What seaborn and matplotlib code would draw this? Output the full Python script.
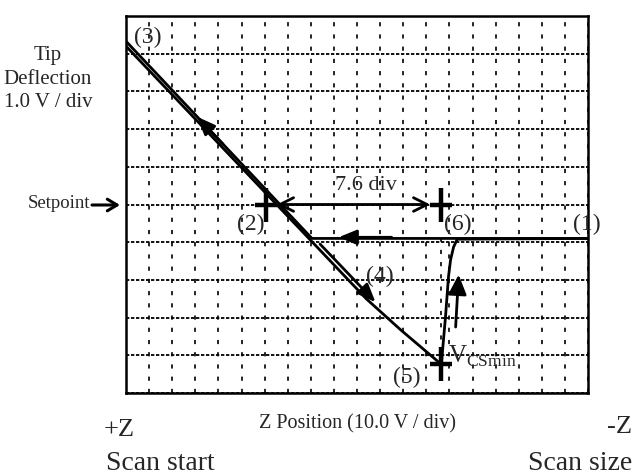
import matplotlib
matplotlib.use("Agg")
import matplotlib.pyplot as plt
import pandas as pd
import seaborn as sns

# Force curve traces in screen divisions (x: 0-20 div, y: 0-10 div)
approach_z = [20.0, 8.05, 0.0]
approach_defl = [4.1, 4.1, 9.33]
retract_z = [0.0, 10.4, 11.9, 13.65, 13.83, 13.96, 14.05, 14.18, 14.34, 20.0]
retract_defl = [9.2, 2.5, 1.67, 0.76, 2.01, 3.08, 3.53, 3.87, 4.08, 4.1]

# Cursor readings
setpoint = 5.0
cursor_left = 6.05
cursor_right = 13.65
vcs_min = 0.76
span_label = "7.6 div"

# Point labels along the curve
point_labels = ["(1)", "(2)", "(3)", "(4)", "(5)", "(6)"]
label_z = [19.95, 5.42, 0.95, 10.97, 12.14, 14.35]
label_defl = [4.48, 4.46, 9.42, 3.08, 0.40, 4.48]

sns.set_style("white")
plt.rcParams["font.family"] = ["Liberation Serif", "DejaVu Serif"]
plt.rcParams["mathtext.fontset"] = "custom"
plt.rcParams["mathtext.rm"] = "Liberation Serif"
plt.rcParams["lines.scale_dashes"] = False

W, H = 634, 475
fig = plt.figure(figsize=(W / 100, H / 100), dpi=100)
ax = fig.add_axes([126 / W, 82 / H, 462 / W, 377 / H])

approach = pd.DataFrame({"z": approach_z, "deflection": approach_defl})
retract = pd.DataFrame({"z": retract_z, "deflection": retract_defl})

sns.lineplot(data=approach, x="z", y="deflection", sort=False, estimator=None,
             color="black", lw=2.0, ax=ax, zorder=3)
sns.lineplot(data=retract, x="z", y="deflection", sort=False, estimator=None,
             color="black", lw=2.0, ax=ax, zorder=3)

ax.set_xlim(0, 20)
ax.set_ylim(0, 10)
ax.set_xticks(range(0, 21))
ax.set_yticks(range(0, 11))
ax.tick_params(length=0, labelbottom=False, labelleft=False)
ax.set_xlabel("")
ax.set_ylabel("")
ax.set_axisbelow(True)
ax.xaxis.grid(True, color="black", lw=1.2, linestyle=(0, (3.0, 5.8)))
ax.yaxis.grid(True, color="black", lw=1.3, linestyle=(0, (2.4, 1.2)))
for s in ax.spines.values():
    s.set_visible(True)
    s.set_color("black")
    s.set_linewidth(1.8)

# Dotted drop line from the minimum up to the free-air level
ax.plot([cursor_right, cursor_right], [vcs_min, approach_defl[0]], color="black",
        lw=1.2, linestyle=(0, (3.0, 5.8)), zorder=2)

# Cursor crosses
cross_z = [cursor_left, cursor_right, cursor_right]
cross_defl = [setpoint, setpoint, vcs_min]
ax.plot(cross_z, cross_defl, ls="none", marker="|", ms=24, mew=3.2,
        color="black", zorder=4)
ax.plot(cross_z, cross_defl, ls="none", marker="_", ms=16, mew=3.2,
        color="black", zorder=4)

# Span between the two cursors
ax.annotate("", xy=(cursor_right, setpoint), xytext=(cursor_left, setpoint),
            arrowprops=dict(arrowstyle="<->,head_length=0.7,head_width=0.35",
                            lw=2.0, color="black", shrinkA=8, shrinkB=8,
                            mutation_scale=14))
ax.text((cursor_left + cursor_right) / 2 + 0.55, setpoint + 0.5, span_label,
        ha="center", va="center", fontsize=16)

# Direction arrows along the traces
def head(tail, tip, hl=1.1, hw=0.45, scale=10):
    ax.annotate("", xy=tip, xytext=tail,
                arrowprops=dict(arrowstyle=f"-|>,head_length={hl},head_width={hw}",
                                lw=2.0, color="black", shrinkA=0, shrinkB=0,
                                mutation_scale=scale), zorder=5)

head((4.2, 9.33 - 0.65 * 4.2), (3.08, 9.33 - 0.65 * 3.08))
head((11.5, 4.13), (9.2, 4.13))
head((8.4, 3.95), (10.8, 2.41))
head((14.27, 1.75), (14.4, 3.14), hl=1.2, hw=0.55)

for lab, zx, dy in zip(point_labels, label_z, label_defl):
    ax.text(zx, dy, lab, ha="center", va="center", fontsize=17, clip_on=False,
            zorder=6)

ax.text(13.96, vcs_min + 0.04, r"$\mathrm{V}_{\mathrm{CSmin}}$", ha="left",
        va="baseline", fontsize=18)

# Axis annotations around the screen
def fx(px):
    return px / W

def fy(py):
    return 1 - py / H

fig.text(fx(48), fy(79), "Tip\nDeflection\n1.0 V / div", ha="center", va="center",
         fontsize=15, linespacing=1.35)
fig.text(fx(28), fy(204), "Setpoint", ha="left", va="center", fontsize=13.5)
ax.annotate("", xy=(fx(120), fy(205)), xytext=(fx(92), fy(205)),
            xycoords="figure fraction", textcoords="figure fraction",
            arrowprops=dict(arrowstyle="->,head_length=0.5,head_width=0.3",
                            lw=2.2, color="black", shrinkA=0, shrinkB=0,
                            mutation_scale=14))
fig.text(fx(357), fy(424), "Z Position (10.0 V / div)", ha="center", va="center",
         fontsize=14.5)
fig.text(fx(104), fy(430), "+Z", ha="left", va="center", fontsize=19)
fig.text(fx(106), fy(463), "Scan start", ha="left", va="center", fontsize=20)
fig.text(fx(632), fy(427), "-Z", ha="right", va="center", fontsize=19)
fig.text(fx(632), fy(463), "Scan size", ha="right", va="center", fontsize=20)

fig.savefig("out.png", dpi=100, facecolor="white")
